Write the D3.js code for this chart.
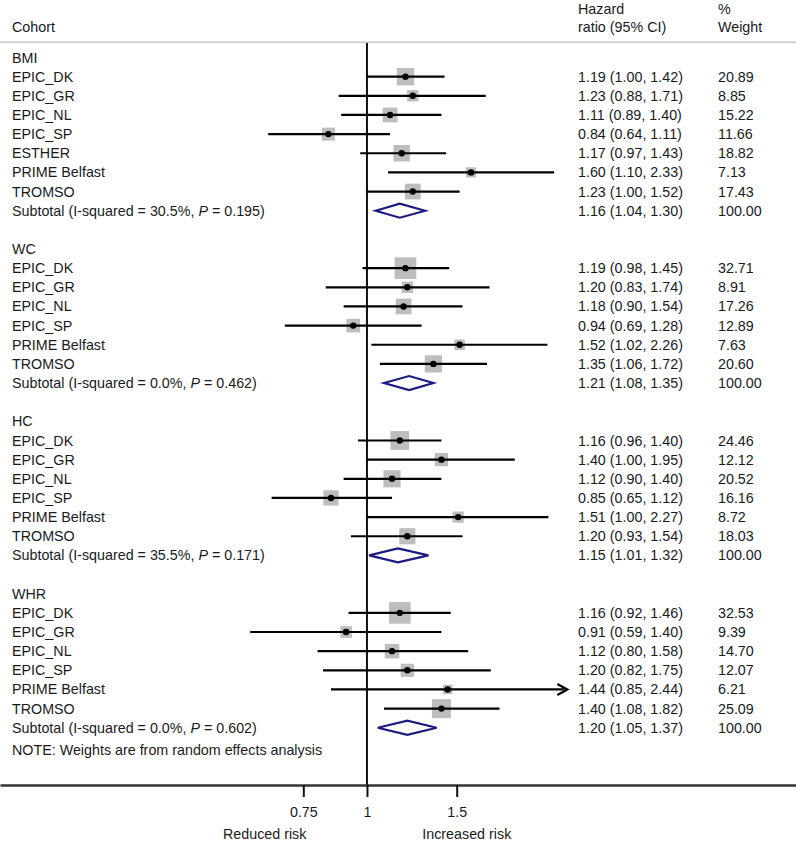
<!DOCTYPE html>
<html>
<head>
<meta charset="utf-8">
<script src="https://cdn.jsdelivr.net/npm/d3@7/dist/d3.min.js"></script>
<style>
  html, body { margin: 0; padding: 0; background: #fff; }
  svg { display: block; }
  text { font-family: "Liberation Sans", Arial, Helvetica, sans-serif; fill: #1a1a1a; }
</style>
</head>
<body>
<svg id="chart" width="796" height="843"></svg>
<script>
// ---------------- DATA ----------------
const groupNames = ["BMI", "WC", "HC", "WHR"];

// [cohort, HR, lower, upper, weight]
const bmiRows = [
  ["EPIC_DK", 1.19, 1.00, 1.42, 20.89],
  ["EPIC_GR", 1.23, 0.88, 1.71, 8.85],
  ["EPIC_NL", 1.11, 0.89, 1.40, 15.22],
  ["EPIC_SP", 0.84, 0.64, 1.11, 11.66],
  ["ESTHER", 1.17, 0.97, 1.43, 18.82],
  ["PRIME Belfast", 1.60, 1.10, 2.33, 7.13],
  ["TROMSO", 1.23, 1.00, 1.52, 17.43]
];
const wcRows = [
  ["EPIC_DK", 1.19, 0.98, 1.45, 32.71],
  ["EPIC_GR", 1.20, 0.83, 1.74, 8.91],
  ["EPIC_NL", 1.18, 0.90, 1.54, 17.26],
  ["EPIC_SP", 0.94, 0.69, 1.28, 12.89],
  ["PRIME Belfast", 1.52, 1.02, 2.26, 7.63],
  ["TROMSO", 1.35, 1.06, 1.72, 20.60]
];
const hcRows = [
  ["EPIC_DK", 1.16, 0.96, 1.40, 24.46],
  ["EPIC_GR", 1.40, 1.00, 1.95, 12.12],
  ["EPIC_NL", 1.12, 0.90, 1.40, 20.52],
  ["EPIC_SP", 0.85, 0.65, 1.12, 16.16],
  ["PRIME Belfast", 1.51, 1.00, 2.27, 8.72],
  ["TROMSO", 1.20, 0.93, 1.54, 18.03]
];
const whrRows = [
  ["EPIC_DK", 1.16, 0.92, 1.46, 32.53],
  ["EPIC_GR", 0.91, 0.59, 1.40, 9.39],
  ["EPIC_NL", 1.12, 0.80, 1.58, 14.70],
  ["EPIC_SP", 1.20, 0.82, 1.75, 12.07],
  ["PRIME Belfast", 1.44, 0.85, 2.44, 6.21],
  ["TROMSO", 1.40, 1.08, 1.82, 25.09]
];
// [HR, lower, upper, weight, I-squared text, P text]
const subtotals = [
  [1.16, 1.04, 1.30, 100.00, "30.5%", "0.195"],
  [1.21, 1.08, 1.35, 100.00, "0.0%", "0.462"],
  [1.15, 1.01, 1.32, 100.00, "35.5%", "0.171"],
  [1.20, 1.05, 1.37, 100.00, "0.0%", "0.602"]
];
const tickValues = [0.75, 1, 1.5];
const tickLabels = ["0.75", "1", "1.5"];
const arrowLimit = 2.4;  // CIs beyond this are drawn with an arrow
const noteText = "NOTE: Weights are from random effects analysis";

// ---------------- LAYOUT ----------------
const W = 796, H = 843;
const svg = d3.select("#chart");
const fs = 14.3;
const labelX = 12, hrX = 578, wX = 718;
const axisY = 785, topY = 43;

const xBase = d3.scaleLog().domain([0.75, 1.5]).range([303.3, 456.7]);
const x = d3.scaleLog().domain([xBase.invert(0), xBase.invert(W)]).range([0, W]);

// build row list
const allGroups = [bmiRows, wcRows, hcRows, whrRows];
const rows = [];
let r = 0;
allGroups.forEach((g, gi) => {
  rows.push({type: "head", label: groupNames[gi], row: r++});
  g.forEach(d => rows.push({type: "study", label: d[0], hr: d[1], lo: d[2], hi: d[3], w: d[4], row: r++}));
  const s = subtotals[gi];
  rows.push({type: "sub", hr: s[0], lo: s[1], hi: s[2], w: s[3], i2: s[4], p: s[5], row: r++});
  if (gi < allGroups.length - 1) r++;
});
const noteRow = r;

const y = d3.scaleLinear().domain([0, noteRow]).range([57.5, 57.5 + noteRow * 19.15]);
const sizeScale = d3.scaleSqrt().domain([0, 100]).range([0, 37.9]);
const fmt = d3.format(".2f");

// header
svg.append("text").attr("x", labelX).attr("y", 26.7).attr("dy", "0.35em").attr("font-size", fs).text("Cohort");
svg.append("text").attr("x", hrX).attr("y", 8.5).attr("dy", "0.35em").attr("font-size", fs).text("Hazard");
svg.append("text").attr("x", hrX).attr("y", 26.7).attr("dy", "0.35em").attr("font-size", fs).text("ratio (95% CI)");
svg.append("text").attr("x", wX).attr("y", 8.5).attr("dy", "0.35em").attr("font-size", fs).text("%");
svg.append("text").attr("x", wX).attr("y", 26.7).attr("dy", "0.35em").attr("font-size", fs).text("Weight");
svg.append("line").attr("x1", 0).attr("x2", W).attr("y1", 42.3).attr("y2", 42.3)
  .attr("stroke", "#c8c8c8").attr("stroke-width", 1.6);

// null line
svg.append("line").attr("x1", x(1)).attr("x2", x(1)).attr("y1", topY).attr("y2", axisY)
  .attr("stroke", "#111").attr("stroke-width", 2);

// labels
const lab = svg.append("g");
rows.forEach(d => {
  if (d.type === "head" || d.type === "study") {
    lab.append("text").attr("x", labelX).attr("y", y(d.row)).attr("dy", "0.35em").attr("font-size", fs).text(d.label);
  } else {
    const t = lab.append("text").attr("x", labelX).attr("y", y(d.row)).attr("dy", "0.35em").attr("font-size", fs);
    t.append("tspan").text("Subtotal (I-squared = " + d.i2 + ", ");
    t.append("tspan").attr("font-style", "italic").text("P");
    t.append("tspan").text(" = " + d.p + ")");
  }
  if (d.type !== "head") {
    lab.append("text").attr("x", hrX).attr("y", y(d.row)).attr("dy", "0.35em").attr("font-size", fs)
      .text(fmt(d.hr) + " (" + fmt(d.lo) + ", " + fmt(d.hi) + ")");
    lab.append("text").attr("x", wX).attr("y", y(d.row)).attr("dy", "0.35em").attr("font-size", fs)
      .text(fmt(d.w));
  }
});
lab.append("text").attr("x", labelX).attr("y", y(noteRow) + 3).attr("dy", "0.35em").attr("font-size", fs).text(noteText);

// study marks
const studies = rows.filter(d => d.type === "study");
const marks = svg.append("g");
marks.selectAll("rect.w").data(studies).join("rect")
  .attr("class", "w")
  .attr("x", d => x(d.hr) - sizeScale(d.w) / 2)
  .attr("y", d => y(d.row) - sizeScale(d.w) / 2)
  .attr("width", d => sizeScale(d.w))
  .attr("height", d => sizeScale(d.w))
  .attr("fill", "#bdbdbd");
marks.selectAll("line.ci").data(studies).join("line")
  .attr("class", "ci")
  .attr("x1", d => x(d.lo)).attr("x2", d => x(d.hi))
  .attr("y1", d => y(d.row)).attr("y2", d => y(d.row))
  .attr("stroke", "#000").attr("stroke-width", 2.2);
marks.selectAll("circle").data(studies).join("circle")
  .attr("cx", d => x(d.hr)).attr("cy", d => y(d.row)).attr("r", 3.2).attr("fill", "#000");
// arrows
marks.selectAll("path.arr").data(studies.filter(d => d.hi > arrowLimit)).join("path")
  .attr("class", "arr")
  .attr("d", d => {
    const tx = x(d.hi) + 3, ty = y(d.row);
    return `M${tx - 10},${ty - 5.5} L${tx},${ty} L${tx - 10},${ty + 5.5}`;
  })
  .attr("fill", "none").attr("stroke", "#000").attr("stroke-width", 2.2);

// diamonds
const subs = rows.filter(d => d.type === "sub");
svg.append("g").selectAll("path").data(subs).join("path")
  .attr("d", d => {
    const cy = y(d.row);
    return `M${x(d.lo)},${cy} L${x(d.hr)},${cy - 7} L${x(d.hi)},${cy} L${x(d.hr)},${cy + 7} Z`;
  })
  .attr("fill", "#fff").attr("stroke", "#1b1b80").attr("stroke-width", 2.2);

// axis
const axis = d3.axisBottom(x).tickValues(tickValues).tickFormat((d, i) => tickLabels[i])
  .tickSize(12).tickSizeOuter(0).tickPadding(10);
const ag = svg.append("g").attr("transform", `translate(0,${axisY})`).call(axis);
ag.select(".domain").attr("stroke", "#333").attr("stroke-width", 2.6);
ag.selectAll(".tick line").attr("stroke", "#111").attr("stroke-width", 2);
ag.selectAll(".tick text").attr("font-size", fs).attr("font-family", "Liberation Sans, Arial, sans-serif").attr("fill", "#1a1a1a");

svg.append("text").attr("x", x(0.63)).attr("y", 834).attr("dy", "0.35em").attr("text-anchor", "middle")
  .attr("font-size", fs).text("Reduced risk");
svg.append("text").attr("x", x(1.57)).attr("y", 834).attr("dy", "0.35em").attr("text-anchor", "middle")
  .attr("font-size", fs).text("Increased risk");
</script>
</body>
</html>
